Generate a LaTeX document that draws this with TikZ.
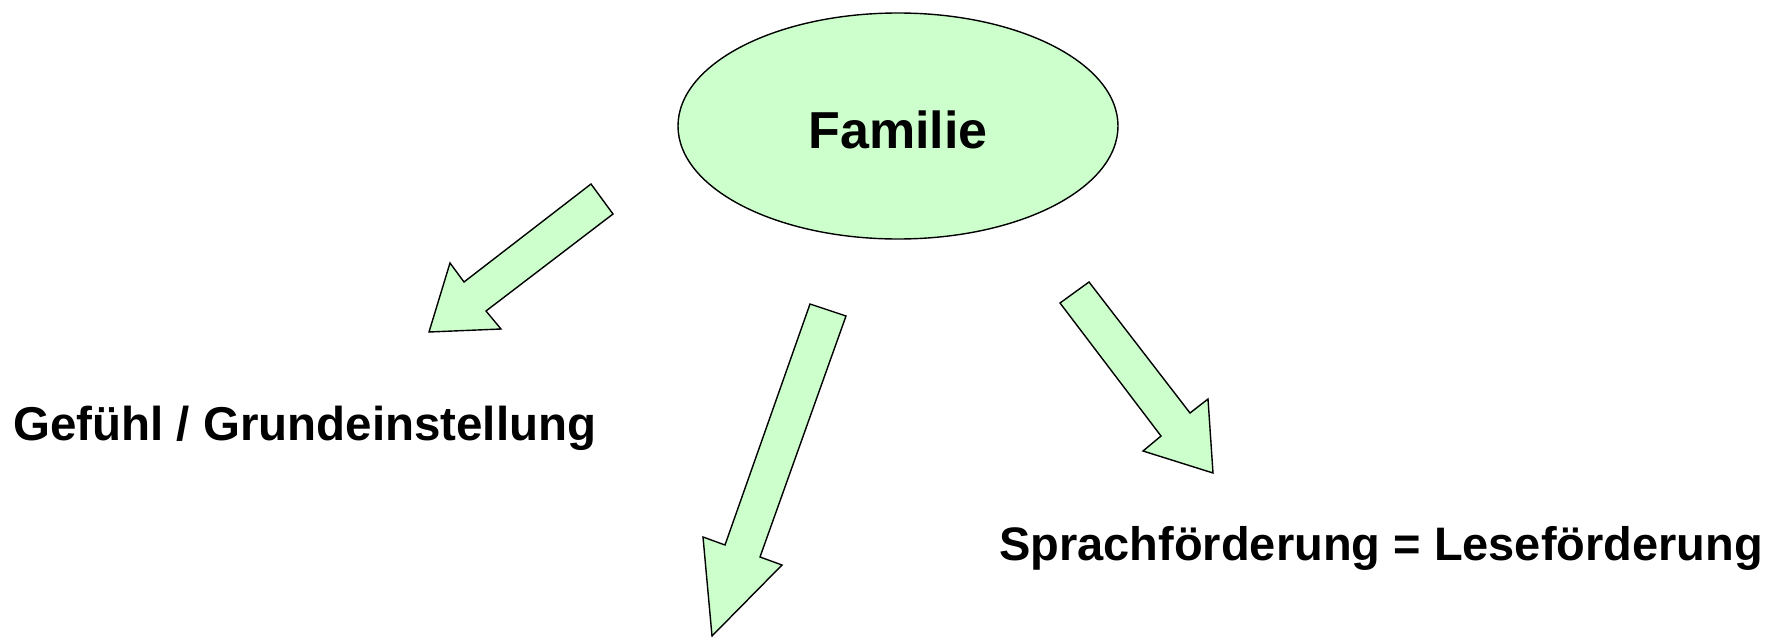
\documentclass[tikz,border=0pt]{standalone}
\usepackage{fontspec}
\setmainfont{Liberation Sans}
\usetikzlibrary{shapes.geometric}
\definecolor{palegreen}{HTML}{CCFFCC}
\tikzset{
  blockarrow/.style={draw=black, fill=palegreen, line width=1.4pt, line join=miter},
  oval/.style={ellipse, draw=black, fill=palegreen, line width=1.4pt, minimum width=440pt, minimum height=226pt, inner sep=0pt},
  label/.style={inner sep=0pt, font=\fontsize{47.5pt}{57pt}\selectfont\bfseries},
}
\begin{document}
\begin{tikzpicture}[x=1pt, y=-1pt]
\useasboundingbox[fill=white] (0,0) rectangle (1781,637);
\node[oval] (fam) at (898,126) {};
\node[label, anchor=base, font=\fontsize{52pt}{62pt}\selectfont\bfseries] (famtext) at (898,148) {Familie};
\node[label, anchor=base west] (gef) at (13,440) {Gefühl / Grundeinstellung};
\node[label, anchor=base west, font=\fontsize{47pt}{57pt}\selectfont\bfseries] (spr) at (999,560) {Sprachförderung = Leseförderung};
% left arrow
\draw[blockarrow] (591,184) -- (464,282) -- (450,263) -- (429,332) -- (501,329) -- (486,311) -- (613,214) -- cycle;
% middle arrow
\draw[blockarrow] (810,304) -- (725,545) -- (703,537) -- (712,636) -- (782,565) -- (760,557) -- (846,316) -- cycle;
% right arrow
\draw[blockarrow] (1089,282) -- (1190,413) -- (1208,399) -- (1213,473) -- (1143,451) -- (1161,436) -- (1060,303) -- cycle;
\end{tikzpicture}
\end{document}
